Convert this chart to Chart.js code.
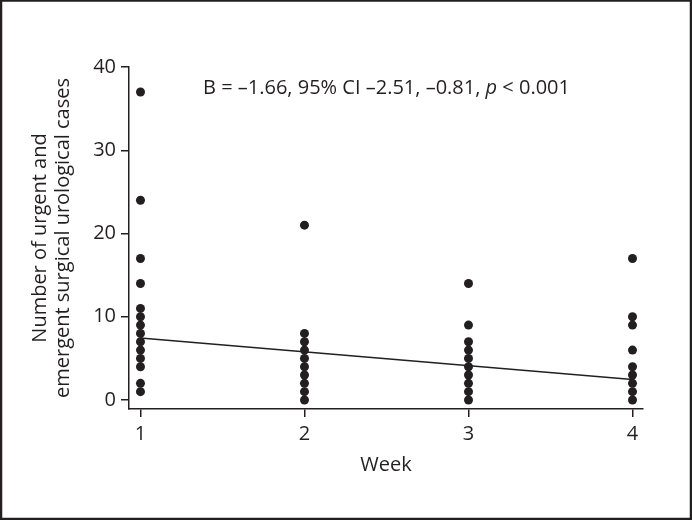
<!DOCTYPE html>
<html>
<head>
<meta charset="utf-8">
<script src="https://cdn.jsdelivr.net/npm/chart.js@4/dist/chart.umd.min.js"></script>
<style>
  html, body { margin: 0; padding: 0; background: #fff; }
  #wrap { width: 692px; height: 520px; position: relative; }
</style>
</head>
<body>
<div id="wrap"><canvas id="chart"></canvas></div>
<script>
// --- Data ---
const weeks = [1, 2, 3, 4];
const week1Cases = [37, 24, 17, 14, 11, 10, 9, 8, 7, 6, 5, 4, 2, 1];
const week2Cases = [21, 8, 7, 6, 5, 4, 3, 2, 1, 0];
const week3Cases = [14, 9, 7, 6, 5, 4, 3, 2, 1, 0];
const week4Cases = [17, 10, 9, 6, 4, 3, 2, 1, 0];
const fitWeeks = [1, 4];
const fitValues = [7.44, 2.46];
const yTicks = [0, 10, 20, 30, 40];
const annotationText = ['B = \u20131.66, 95% CI \u20132.51, \u20130.81, ', 'p', ' < 0.001'];

const ink = '#231f20';
const fontFamily = "'Open Sans', 'Noto Sans', sans-serif";
const fontSize = 20;

const caseSets = [week1Cases, week2Cases, week3Cases, week4Cases];
const points = [];
caseSets.forEach((vals, i) => {
    vals.forEach(v => points.push({ x: weeks[i], y: v }));
});
const fitPoints = fitWeeks.map((w, i) => ({ x: w, y: fitValues[i] }));

// frame around the whole figure + the regression annotation
const framePlugin = {
    id: 'frame',
    beforeDraw(chart) {
        const ctx = chart.ctx;
        ctx.save();
        ctx.fillStyle = '#fff';
        ctx.fillRect(0, 0, chart.width, chart.height);
        ctx.restore();
    },
    afterDraw(chart) {
        const ctx = chart.ctx;
        ctx.save();
        ctx.strokeStyle = ink;
        ctx.lineWidth = 2.5;
        ctx.strokeRect(1, 0.5, chart.width - 2, chart.height - 1.5);

        // annotation, centred on a data position
        const xs = chart.scales.x, ys = chart.scales.y;
        const cx = xs.getPixelForValue(2.5);
        const cy = ys.getPixelForValue(37.4);
        const normal = `${fontSize}px ${fontFamily}`;
        const italic = `italic ${fontSize}px ${fontFamily}`;
        const fonts = [normal, italic, normal];
        let total = 0;
        const widths = annotationText.map((t, i) => {
            ctx.font = fonts[i];
            const w = ctx.measureText(t).width;
            total += w;
            return w;
        });
        let x = cx - total / 2;
        ctx.fillStyle = ink;
        ctx.textBaseline = 'middle';
        ctx.textAlign = 'left';
        annotationText.forEach((t, i) => {
            ctx.font = fonts[i];
            ctx.fillText(t, x, cy);
            x += widths[i];
        });
        ctx.restore();
    }
};

const axisGrid = {
    display: true,
    drawOnChartArea: false,
    drawTicks: true,
    tickLength: 8,
    color: ink,
    lineWidth: 1.5
};

new Chart(document.getElementById('chart'), {
    type: 'scatter',
    data: {
        datasets: [
            {
                label: 'Cases',
                data: points,
                backgroundColor: ink,
                borderColor: ink,
                pointRadius: 4.5,
                pointHoverRadius: 4.5,
                borderWidth: 0
            },
            {
                type: 'line',
                label: 'Fit',
                data: fitPoints,
                borderColor: ink,
                borderWidth: 1.6,
                pointRadius: 0,
                fill: false,
                tension: 0
            }
        ]
    },
    options: {
        responsive: true,
        maintainAspectRatio: false,
        animation: false,
        layout: { padding: { top: 67, right: 49, bottom: 0, left: 0 } },
        plugins: {
            legend: { display: false },
            tooltip: { enabled: false }
        },
        scales: {
            x: {
                type: 'linear',
                min: 0.93,
                max: 4.064,
                afterBuildTicks: scale => { scale.ticks = weeks.map(v => ({ value: v })); },
                afterFit: scale => { scale.height = 111; },
                grid: axisGrid,
                border: { display: true, color: ink, width: 1.5 },
                ticks: {
                    color: ink,
                    padding: 5,
                    font: { family: fontFamily, size: fontSize }
                },
                title: {
                    display: true,
                    text: 'Week',
                    color: ink,
                    font: { family: fontFamily, size: fontSize },
                    padding: { top: 0, bottom: 43 }
                }
            },
            y: {
                min: -1.08,
                max: 40,
                afterBuildTicks: scale => { scale.ticks = yTicks.map(v => ({ value: v })); },
                afterFit: scale => { scale.width = 129; },
                grid: axisGrid,
                border: { display: true, color: ink, width: 1.5 },
                ticks: {
                    color: ink,
                    padding: 5,
                    font: { family: fontFamily, size: fontSize }
                },
                title: {
                    display: true,
                    text: ['Number of urgent and', 'emergent surgical urological cases'],
                    color: ink,
                    font: { family: fontFamily, size: fontSize, lineHeight: 1.15 },
                    padding: { top: 29, bottom: 0 }
                }
            }
        }
    },
    plugins: [framePlugin]
});
</script>
</body>
</html>
